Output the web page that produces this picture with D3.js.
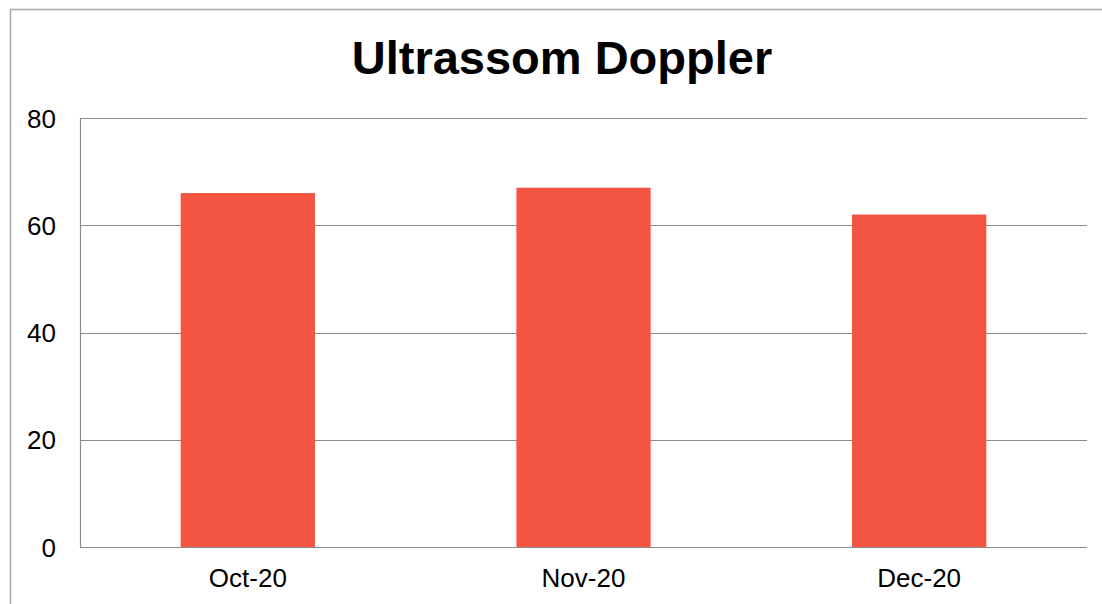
<!DOCTYPE html>
<html>
<head>
<meta charset="utf-8">
<script src="https://cdn.jsdelivr.net/npm/d3@7"></script>
<style>
  body { margin: 0; background: #fff; }
  svg { display: block; font-family: "Liberation Sans", Arial, sans-serif; }
</style>
</head>
<body>
<div id="chart"></div>
<script>
const months = ['Oct-20', 'Nov-20', 'Dec-20'];
const exams = [66, 67, 62];
const yTicks = [0, 20, 40, 60, 80];
const chartTitle = 'Ultrassom Doppler';

document.addEventListener("DOMContentLoaded", function(e) {
  const width = 1102, height = 604;
  const margin = {top: 118, right: 15, bottom: 57, left: 80};

  const svg = d3.select('#chart').append('svg')
    .attr('width', width)
    .attr('height', height);

  // outer chart frame (runs off the right and bottom edges)
  svg.append('rect')
    .attr('x', 10.5).attr('y', 9.5)
    .attr('width', width).attr('height', height)
    .attr('fill', 'none')
    .attr('stroke', '#a6a6a6')
    .attr('stroke-width', 1.5);

  const x = d3.scaleBand()
    .domain(months)
    .range([margin.left, width - margin.right])
    .padding(0);

  const y = d3.scaleLinear()
    .domain([0, 80])
    .range([height - margin.bottom, margin.top]);

  // gridlines
  svg.append('g')
    .selectAll('line')
    .data(yTicks)
    .enter().append('line')
      .attr('x1', margin.left)
      .attr('x2', width - margin.right)
      .attr('y1', d => Math.round(y(d)) + 0.5)
      .attr('y2', d => Math.round(y(d)) + 0.5)
      .attr('stroke', '#8c8c8c')
      .attr('stroke-width', 1.2);

  // left axis line
  svg.append('line')
    .attr('x1', margin.left + 0.5).attr('x2', margin.left + 0.5)
    .attr('y1', y(80)).attr('y2', y(0))
    .attr('stroke', '#8c8c8c')
    .attr('stroke-width', 1.2);

  // bars
  const barW = x.bandwidth() * 0.4;
  svg.append('g')
    .selectAll('rect')
    .data(exams)
    .enter().append('rect')
      .attr('x', (d, i) => x(months[i]) + (x.bandwidth() - barW) / 2)
      .attr('y', d => y(d))
      .attr('width', barW)
      .attr('height', d => y(0) - y(d))
      .attr('fill', '#f45542');

  // y tick labels
  svg.append('g')
    .selectAll('text')
    .data(yTicks)
    .enter().append('text')
      .attr('x', 56)
      .attr('y', d => y(d) + 9.5)
      .attr('text-anchor', 'end')
      .attr('font-size', 26)
      .attr('fill', '#000')
      .text(d => d);

  // x labels
  svg.append('g')
    .selectAll('text')
    .data(months)
    .enter().append('text')
      .attr('x', d => x(d) + x.bandwidth() / 2)
      .attr('y', 587)
      .attr('text-anchor', 'middle')
      .attr('font-size', 26)
      .attr('fill', '#000')
      .text(d => d);

  // title
  svg.append('text')
    .attr('x', 562)
    .attr('y', 74)
    .attr('text-anchor', 'middle')
    .attr('font-size', 47)
    .attr('font-weight', 'bold')
    .attr('fill', '#000')
    .text(chartTitle);
});
</script>
</body>
</html>
